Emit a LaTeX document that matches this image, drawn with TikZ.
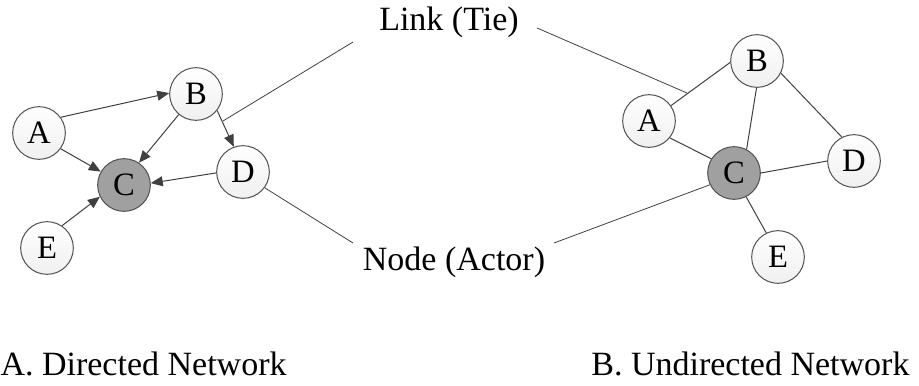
\documentclass[tikz,border=0pt]{standalone}
\usepackage{fontspec}
\setmainfont{Liberation Serif}
\usetikzlibrary{arrows.meta}

\definecolor{edgegray}{RGB}{64,64,64}
\definecolor{rimgray}{RGB}{80,80,80}
\definecolor{hubgray}{RGB}{160,160,160}

\tikzset{every picture/.style={line width=0.75pt}}
\tikzset{
  actor/.style={circle,draw=rimgray,top color=white,bottom color=gray!12,minimum size=39.5pt,inner sep=0pt,font=\fontsize{24.5}{28}\selectfont},
  hub/.style={actor,top color=hubgray,bottom color=hubgray,fill=hubgray},
  tie/.style={draw=edgegray},
  dtie/.style={tie,-{Triangle[length=9pt,width=7.5pt]}},
  caption/.style={inner sep=0pt,font=\fontsize{25.5}{30}\selectfont}
}

\begin{document}
\begin{tikzpicture}[x=0.75pt,y=0.75pt,yscale=-1,xscale=1]
	\useasboundingbox (0,0) rectangle (919,385);

	% Directed network
	\node [actor] (dA) at (39,133) {A};
	\node [actor] (dB) at (196,94) {B};
	\node [hub] (dC) at (124,185) {C};
	\node [actor] (dD) at (243,172) {D};
	\node [actor] (dE) at (47,248) {E};

	\draw [dtie] (dA.36) -- (dB.178);
	\draw [dtie] (dA.-36) -- (dC.150);
	\draw [dtie] (dB.230) -- (dC.56);
	\draw [dtie] (dB.-38) -- (dD.110);
	\draw [dtie] (dD.182) -- (dC.4);
	\draw [dtie] (dE.56) -- (dC.206);

	% Undirected network
	\node [actor] (uA) at (649,121) {A};
	\node [actor] (uB) at (757,61) {B};
	\node [hub] (uC) at (734,173) {C};
	\node [actor] (uD) at (854,161) {D};
	\node [actor] (uE) at (778,257) {E};

	\draw [tie] (uA.35) -- (uB.183);
	\draw [tie] (uA.-39) -- (uC.148);
	\draw [tie] (uB.-91) -- (uC.62);
	\draw [tie] (uB.-27) -- (uD.117);
	\draw [tie] (uC.0) -- (uD.180);
	\draw [tie] (uC.-63) -- (uE.116);

	% Text Node
	\node [caption] (link) at (449,22) {Link (Tie)};
	% Text Node
	\node [caption] (actor) at (454,262) {Node (Actor)};

	% pointer lines
	\coordinate (linkL) at (353,42);
	\coordinate (linkR) at (537,28);
	\coordinate (onBD) at (223,121);
	\coordinate (onAB) at (687,93);
	\coordinate (actorL) at (353,243);
	\coordinate (actorR) at (554,243);
	\draw [tie,line width=0.6pt] (linkL) -- (onBD);
	\draw [tie,line width=0.6pt] (linkR) -- (onAB);
	\draw [tie,line width=0.6pt] (actorL) -- (dD.-36);
	\draw [tie,line width=0.6pt] (actorR) -- (uC.206);

	% Text Node
	\node [caption,anchor=base west] (capA) at (0,375) {A. Directed Network};
	% Text Node
	\node [caption,anchor=base east] (capB) at (910,375) {B. Undirected Network};

\end{tikzpicture}
\end{document}
